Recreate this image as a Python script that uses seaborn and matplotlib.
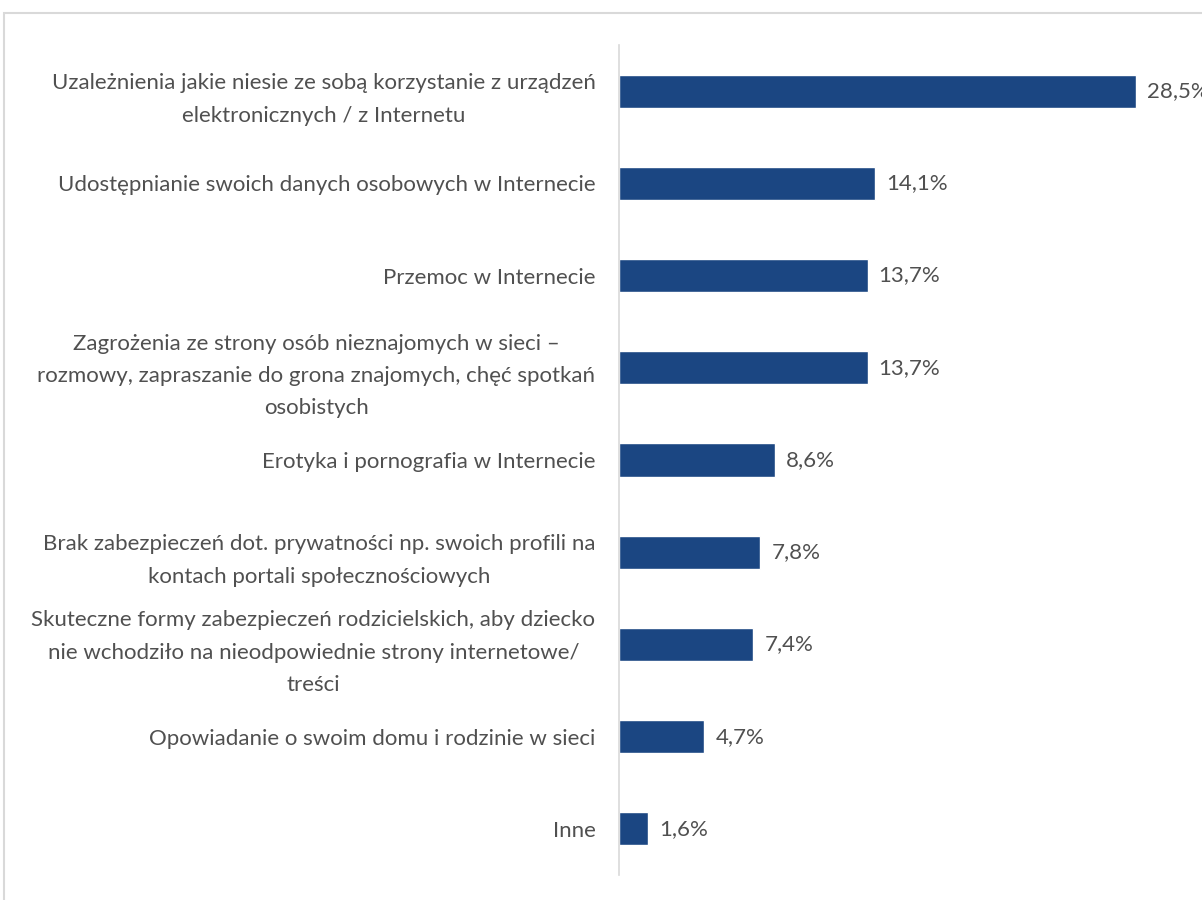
import pandas as pd
import matplotlib.pyplot as plt
from matplotlib.patches import Rectangle
import seaborn as sns

categories = [
    "Uzależnienia jakie niesie ze sobą korzystanie z urządzeń\nelektronicznych / z Internetu",
    "Udostępnianie swoich danych osobowych w Internecie",
    "Przemoc w Internecie",
    "Zagrożenia ze strony osób nieznajomych w sieci –\nrozmowy, zapraszanie do grona znajomych, chęć spotkań\nosobistych",
    "Erotyka i pornografia w Internecie",
    "Brak zabezpieczeń dot. prywatności np. swoich profili na\nkontach portali społecznościowych",
    "Skuteczne formy zabezpieczeń rodzicielskich, aby dziecko\nnie wchodziło na nieodpowiednie strony internetowe/\ntreści",
    "Opowiadanie o swoim domu i rodzinie w sieci",
    "Inne",
]
values = [28.5, 14.1, 13.7, 13.7, 8.6, 7.8, 7.4, 4.7, 1.6]

df = pd.DataFrame({"category": categories, "value": values})

sns.set_style("white")
plt.rcParams["font.family"] = ["Lato", "DejaVu Sans"]

fig = plt.figure(figsize=(12.02, 9), dpi=100)
fig.patches.append(Rectangle((4 / 1202, -0.1), 1.2, 1.1 - 13 / 900, transform=fig.transFigure,
                             fill=False, edgecolor="#d9d9d9", linewidth=1.5))
ax = fig.add_axes([619 / 1202, 25 / 900, 583 / 1202, 830 / 900])

sns.barplot(data=df, y="category", x="value", orient="h", color="#1b4682",
            width=0.36, saturation=1, ax=ax)

ax.set_xlim(0, 583 / 18.14)
ax.set_ylim(8.5, -0.5)
ax.set_xlabel("")
ax.set_ylabel("")
ax.set_xticks([])
for side in ["top", "right", "bottom"]:
    ax.spines[side].set_visible(False)
ax.spines["left"].set_color("#d9d9d9")
ax.spines["left"].set_linewidth(1.2)
ax.tick_params(axis="y", length=0, pad=17, labelsize=16, labelcolor="#505050")
plt.setp(ax.get_yticklabels(), multialignment="center", linespacing=1.78)

# value labels; the first one runs off the right edge, as in the original
labels = [f"{v:.1f}".replace(".", ",") + "%" for v in values]
for t in ax.bar_label(ax.containers[0], labels=labels, padding=8, fontsize=16, color="#505050"):
    t.set_clip_on(False)

fig.savefig("out.png", dpi=100)
plt.close()
